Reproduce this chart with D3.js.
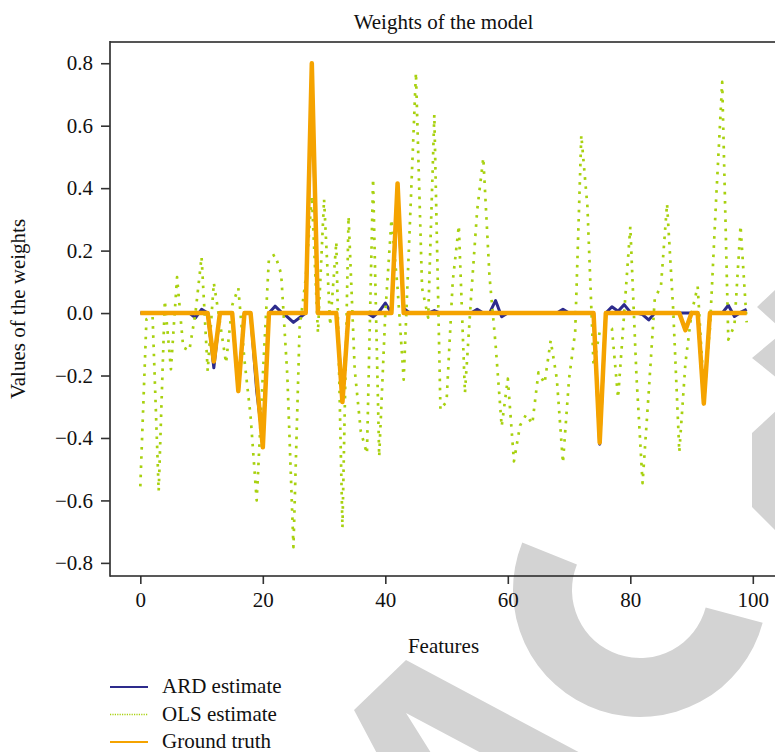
<!DOCTYPE html>
<html>
<head>
<meta charset="utf-8">
<title>Weights of the model</title>
<script src="https://d3js.org/d3.v7.min.js"></script>
<style>
  body { margin: 0; background: #fff; }
  svg { display: block; font-family: "Liberation Serif", "Times New Roman", serif; }
</style>
</head>
<body>
<div id="chart"></div>
<script>
// feature index 0..99
var features = d3.range(100);

var ardEstimate = [
  0, 0, 0, 0, 0, 0, 0, 0, 0, -0.015,
  0.012, 0, -0.175, 0, 0, 0, -0.25, 0, 0, -0.25,
  -0.41, 0, 0.022, 0.003, -0.012, -0.03, -0.015, 0, 0.76, 0,
  0, 0, 0, -0.27, 0, 0, 0, 0, -0.012, 0.005,
  0.032, 0, 0.38, 0.015, 0, 0, 0, 0, 0.008, 0,
  0, 0, 0, 0, 0, 0.012, 0, 0, 0.04, -0.012,
  0, 0, 0, 0, 0, 0, 0, 0, 0, 0.012,
  0, 0, 0, 0, 0, -0.42, 0, 0.02, 0.006, 0.027,
  0.003, 0, -0.005, -0.022, 0, 0, 0, 0, 0, 0,
  0, 0, -0.29, 0, 0, 0, 0.025, -0.011, 0.002, 0.012
];

var olsEstimate = [
  -0.555, -0.02, -0.01, -0.57, 0.04, -0.18, 0.115, -0.11, -0.12, 0.0,
  0.18, -0.185, 0.097, -0.03, -0.16, 0.025, 0.08, -0.15, -0.33, -0.6,
  -0.2, 0.176, 0.187, 0.125, -0.2, -0.75, -0.05, 0.11, 0.375, -0.063,
  0.365, -0.04, 0.228, -0.688, 0.31, -0.18, -0.38, -0.45, 0.43, -0.46,
  0.0, 0.3, 0.08, -0.213, 0.28, 0.77, 0.08, -0.015, 0.635, -0.31,
  -0.283, 0.1, 0.28, -0.256, 0.05, 0.33, 0.497, 0.12, -0.1, -0.363,
  -0.21, -0.475, -0.36, -0.325, -0.355, -0.19, -0.225, -0.088, -0.21, -0.48,
  -0.21, -0.06, 0.57, 0.34, -0.17, -0.06, -0.04, -0.05, -0.272, 0.0,
  0.277, -0.2, -0.545, -0.255, 0.048, 0.085, 0.35, 0.012, -0.445, -0.16,
  0.0, 0.085, -0.25, -0.05, 0.36, 0.74, -0.085, -0.04, 0.28, -0.03
];

var groundTruth = [
  0, 0, 0, 0, 0, 0, 0, 0, 0, 0,
  0, 0, -0.155, 0, 0, 0, -0.25, 0, 0, -0.21,
  -0.43, 0, 0, 0, 0, 0, 0, 0, 0.8, 0,
  0, 0, 0, -0.285, 0, 0, 0, 0, 0, 0,
  0, 0, 0.415, 0, 0, 0, 0, 0, 0, 0,
  0, 0, 0, 0, 0, 0, 0, 0, 0, 0,
  0, 0, 0, 0, 0, 0, 0, 0, 0, 0,
  0, 0, 0, 0, 0, -0.415, 0, 0, 0, 0,
  0, 0, 0, 0, 0, 0, 0, 0, 0, -0.055,
  0, 0, -0.29, 0, 0, 0, 0, 0, 0, 0
];

var xTicks = [0, 20, 40, 60, 80, 100];
var yTicks = [-0.8, -0.6, -0.4, -0.2, 0, 0.2, 0.4, 0.6, 0.8];
var legendLabels = ["ARD estimate", "OLS estimate", "Ground truth"];

var width = 775, height = 752;
var plot = { left: 110, right: 777, top: 42, bottom: 576 };

var svg = d3.select("#chart").append("svg")
  .attr("width", width)
  .attr("height", height);

// grey watermark behind everything: top of a slanted "A", the bowl of a "C"
// and the bits of the next letter poking in at the right edge
var mark = svg.append("g").attr("fill", "#d3d3d3");
var a = d3.path();
a.moveTo(354, 710); a.lineTo(406, 660); a.lineTo(631, 780); a.lineTo(391, 780); a.closePath();
a.moveTo(406, 713); a.lineTo(532, 780); a.lineTo(448, 780); a.closePath();
a.moveTo(757, 307); a.lineTo(777, 288); a.lineTo(777, 325); a.closePath();
a.moveTo(752, 358); a.lineTo(777, 337); a.lineTo(777, 378); a.closePath();
a.moveTo(752, 433); a.lineTo(777, 410); a.lineTo(777, 532); a.lineTo(752, 507); a.closePath();
mark.append("path")
  .attr("fill-rule", "evenodd")
  .attr("d", a.toString());
mark.append("path")
  .attr("transform", "translate(640,590)")
  .attr("d", d3.arc()
    .innerRadius(68)
    .outerRadius(127)
    .startAngle(Math.PI * 105 / 180)
    .endAngle(Math.PI * 292 / 180)());

var x = d3.scaleLinear().domain([-4.95, 103.95]).range([plot.left, plot.right]);
var y = d3.scaleLinear().domain([-0.842, 0.868]).range([plot.bottom, plot.top]);

svg.append("clipPath").attr("id", "clip")
  .append("rect")
  .attr("x", plot.left).attr("y", plot.top)
  .attr("width", plot.right - plot.left).attr("height", plot.bottom - plot.top);

var line = d3.line()
  .x(function(d, i) { return x(features[i]); })
  .y(function(d) { return y(d); });

var series = [
  { name: "ARD estimate", values: ardEstimate, color: "#2d2b8c", width: 3, dash: null },
  { name: "OLS estimate", values: olsEstimate, color: "#a8d10f", width: 2.7, dash: "2.6,6.6" },
  { name: "Ground truth", values: groundTruth, color: "#f5a300", width: 4.5, dash: null }
];

var lines = svg.append("g").attr("clip-path", "url(#clip)");
series.forEach(function(s) {
  lines.append("path")
    .datum(s.values)
    .attr("d", line)
    .attr("fill", "none")
    .attr("stroke", s.color)
    .attr("stroke-width", s.width)
    .attr("stroke-linejoin", "round")
    .attr("stroke-dasharray", s.dash);
});

// axes
var yAxis = d3.axisLeft(y)
  .tickValues(yTicks)
  .tickSize(9)
  .tickPadding(8)
  .tickFormat(d3.format(".1f"));

var xAxis = d3.axisBottom(x)
  .tickValues(xTicks)
  .tickSize(8)
  .tickPadding(8)
  .tickFormat(d3.format("d"));

var gy = svg.append("g")
  .attr("transform", "translate(" + plot.left + ",0)")
  .call(yAxis);
var gx = svg.append("g")
  .attr("transform", "translate(0," + plot.bottom + ")")
  .call(xAxis);

[gx, gy].forEach(function(g) {
  g.select(".domain").remove();
  g.selectAll(".tick line").attr("stroke", "#333").attr("stroke-width", 1.6);
  g.selectAll(".tick text")
    .attr("fill", "#111")
    .attr("font-family", "'Liberation Serif', 'Times New Roman', serif")
    .attr("font-size", 21);
});

// spines
svg.append("line")
  .attr("x1", plot.left).attr("x2", plot.right)
  .attr("y1", plot.top).attr("y2", plot.top)
  .attr("stroke", "#555").attr("stroke-width", 1.8);
svg.append("line")
  .attr("x1", plot.left).attr("x2", plot.right)
  .attr("y1", plot.bottom).attr("y2", plot.bottom)
  .attr("stroke", "#222").attr("stroke-width", 1.6);
svg.append("line")
  .attr("x1", plot.left).attr("x2", plot.left)
  .attr("y1", plot.top - 0.9).attr("y2", plot.bottom + 0.8)
  .attr("stroke", "#333").attr("stroke-width", 1.7);

// title and labels
svg.append("text")
  .attr("x", (plot.left + plot.right) / 2).attr("y", 29)
  .attr("text-anchor", "middle")
  .attr("font-size", 21).attr("fill", "#111")
  .text("Weights of the model");

svg.append("text")
  .attr("x", (plot.left + plot.right) / 2).attr("y", 653)
  .attr("text-anchor", "middle")
  .attr("font-size", 21).attr("fill", "#111")
  .text("Features");

svg.append("text")
  .attr("transform", "translate(25," + (plot.top + plot.bottom) / 2 + ") rotate(-90)")
  .attr("text-anchor", "middle")
  .attr("font-size", 21).attr("fill", "#111")
  .text("Values of the weights");

// legend below the plot
var legend = svg.append("g");
series.forEach(function(s, i) {
  var ly = 687 + i * 27.5;
  legend.append("line")
    .attr("x1", 110).attr("x2", 148)
    .attr("y1", ly).attr("y2", ly)
    .attr("stroke", s.color)
    .attr("stroke-width", s.dash ? 1.4 : 1.8)
    .attr("stroke-dasharray", s.dash ? "1.2,1.2" : null);
  legend.append("text")
    .attr("x", 162).attr("y", ly + 6)
    .attr("font-size", 21).attr("fill", "#111")
    .text(legendLabels[i]);
});
</script>
</body>
</html>
